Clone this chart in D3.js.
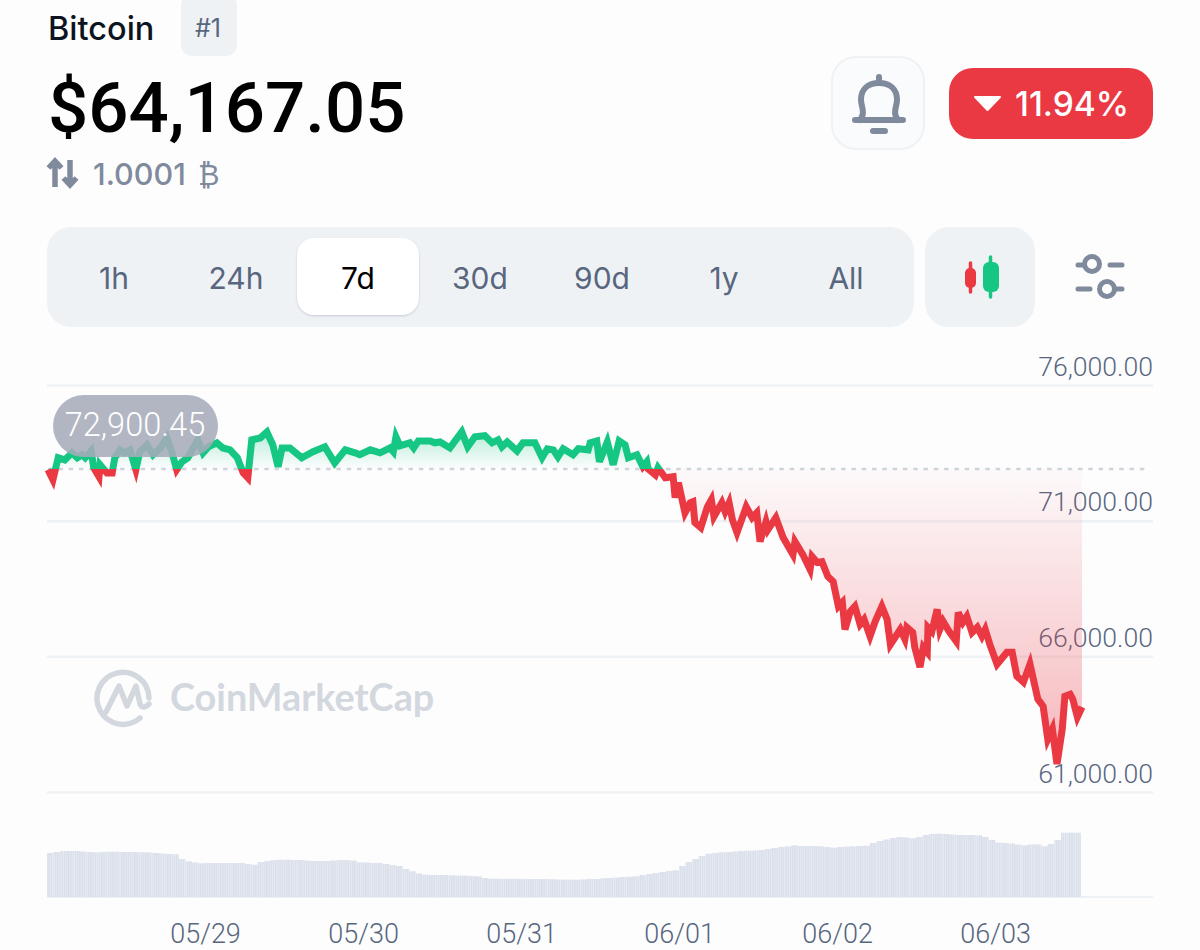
<!DOCTYPE html>
<html>
<head>
<meta charset="utf-8">
<script src="https://cdnjs.cloudflare.com/ajax/libs/d3/7.8.5/d3.min.js"></script>
<style>
  html, body { margin: 0; background: #fdfdfe; }
  svg { display: block; }
  text { font-family: Inter, Roboto, sans-serif; }
  .axis-text text { font-family: Roboto, sans-serif; font-weight: 300; fill: #58667e; }
  .axis-text path { display: none; }
</style>
</head>
<body>
<div id="svg-container"></div>
<script>
// data. hours are counted from 05/28 00:00
const priceHours = [0.15,0.9,1.7,2.7,3.8,4.6,5.3,5.8,6.7,7.1,7.9,8.05,9.1,9.9,10.3,11.1,11.8,12.6,13.5,14.1,15.2,16.1,17.2,18.2,19,19.7,20.5,21.4,22.9,23.7,24.5,25.8,26.7,27.8,28.9,29.8,30.5,31.1,32.4,33.4,34.3,35.1,35.7,36.9,38.7,40.4,42.2,43.7,45.3,46.8,47.5,49.1,50.6,52.1,52.6,53,53.6,55.1,55.7,56.4,58.2,58.9,59.7,61.2,63,63.9,65,66.5,67.6,68.5,69.1,69.9,71.4,72.3,74.1,75.2,76,76.9,77.6,78.4,79.9,80.7,82.2,82.5,83.5,83.9,85.1,86,86.9,87.8,88.3,89.6,90.5,91.1,91.3,92.4,92.8,93.9,95.1,95.4,95.9,96.9,97.7,98.1,98.4,99.3,100.3,100.9,101.3,102.5,103,103.6,104.1,104.8,106.2,107.1,107.8,108.3,109.2,109.5,110.7,111.8,113.3,113.6,114.8,115.9,116.2,117,117.7,118.6,119.4,120.2,120.8,121.2,122,122.7,123.5,124.1,125,125.8,126.8,127.6,128.1,129.6,130.3,130.6,131.5,131.8,132.6,133.1,133.7,133.8,134.4,135.2,135.6,136.1,137,138.1,138.4,139.1,139.7,140.5,141.3,142,142.5,143.2,144.3,145.8,146.6,147.3,148.3,149.3,150.5,151.3,152,152.7,153.4,154.2,154.6,155.4,155.8,156.5,157.2];
const priceValues = [72880,72510,73320,73240,73500,73320,73430,73320,73570,72950,72620,73060,72760,72760,73320,73610,73500,73610,72880,73540,73790,73430,73680,74050,73500,72880,73170,73320,73980,73500,73720,73870,73680,73610,73320,72760,72580,73980,74050,74270,73790,72990,73680,73680,73320,73540,73720,73130,73610,73500,73430,73610,73500,73680,73540,74090,73760,73870,73680,73940,73940,73870,73900,73680,74270,73720,74090,74130,73870,73980,73720,73900,73570,73870,73870,73320,73650,73610,73350,73650,73430,73650,73610,73870,73940,73170,73900,73060,73940,73790,73320,73430,72990,73170,72910,72690,72950,72580,72620,71850,72400,71290,71660,71700,70930,70740,71510,71770,71150,71660,71330,71660,71040,70560,71510,71110,71290,70230,70960,70670,71110,70380,69750,70230,69750,69200,69680,69460,69490,68940,68760,67840,67990,66990,67650,67840,67180,67360,66740,67290,67840,67360,66440,66990,66630,67070,66880,66330,65600,66330,66150,67070,66920,67730,66990,67290,66920,66550,67620,67250,67470,66880,67070,66740,66990,66440,65710,66150,66150,65270,65050,65710,64420,64160,62950,63320,62030,63320,64530,64600,64420,63760,64130];
// one volume value per hour
const volumeValues = [44,45,46,46,46,45.5,45,44.7,45,45.3,45.3,45,45,45,44.8,44.6,44,43.5,43,42.7,38,35.7,34.5,33.7,34,34,34,34,34,34,33,32.3,35,36,37,37.3,37.3,37,37,36.5,36,36,36,36.5,37,37,36.5,34.7,34.5,34,34,33,32,31,28,25.7,23.5,22.3,22,22,22,21.7,21.5,21.3,21,20.7,19,18.3,18.3,18.2,18.2,18.2,18.1,18,18,18,17.8,17.5,17.4,17.3,17.3,17.6,18,18,18.7,19,19.5,20,20.3,20.7,22,23,24,25,26,26.7,31,35,38,41,43.3,44,44.8,45,45.5,46,46.3,46.5,47,48,49,50,50.5,51.7,51,51,51,50.7,50,49.3,50,50.5,50.8,51,51.3,54,56,57.5,59,60,59.5,58.7,60,62,63,63.3,63,62.5,62,62,62,61.7,60,57,54.5,54,53.5,52.5,51.7,52.5,52.5,50.7,53,57,64.3,64.3,64.3];
const yTicks = [61000, 66000, 71000, 76000];
const dateHours = [24, 48, 72, 96, 120, 144];
const dateLabels = ["05/29", "05/30", "05/31", "06/01", "06/02", "06/03"];
const tabLabels = ["1h", "24h", "7d", "30d", "90d", "1y", "All"];
const basePrice = 72900.45;

const width = 1200, height = 950;
const svg = d3.select("#svg-container").append("svg").attr("width", width).attr("height", height);
const defs = svg.append("defs");

// scales
const xScale = d3.scaleLinear().domain([0, 157.2]).range([47, 1082]);
const yScale = d3.scaleLinear().domain([61000, 76000]).range([792, 385]);
const volScale = d3.scaleLinear().domain([0, 70]).range([897, 827]);
const tabScale = d3.scalePoint().domain(tabLabels).range([114, 846]);
const baseY = yScale(basePrice);

// gradients + clips
const green = defs.append("linearGradient").attr("id", "greenFill").attr("gradientUnits", "userSpaceOnUse")
  .attr("x1", 0).attr("x2", 0).attr("y1", 432).attr("y2", baseY);
green.append("stop").attr("offset", 0).attr("stop-color", "#16c784").attr("stop-opacity", 0.3);
green.append("stop").attr("offset", 1).attr("stop-color", "#16c784").attr("stop-opacity", 0);
const red = defs.append("linearGradient").attr("id", "redFill").attr("gradientUnits", "userSpaceOnUse")
  .attr("x1", 0).attr("x2", 0).attr("y1", baseY).attr("y2", 765);
red.append("stop").attr("offset", 0).attr("stop-color", "#ea3943").attr("stop-opacity", 0.02);
red.append("stop").attr("offset", 1).attr("stop-color", "#ea3943").attr("stop-opacity", 0.36);
defs.append("clipPath").attr("id", "aboveBase").append("rect")
  .attr("x", 0).attr("y", 0).attr("width", 1082).attr("height", baseY);
defs.append("clipPath").attr("id", "belowBase").append("rect")
  .attr("x", 0).attr("y", baseY).attr("width", 1082).attr("height", height - baseY);
defs.append("clipPath").attr("id", "belowBaseLine").append("rect")
  .attr("x", 0).attr("y", baseY).attr("width", width).attr("height", height - baseY);
defs.append("clipPath").attr("id", "aboveBaseLine").append("rect")
  .attr("x", 0).attr("y", 0).attr("width", width).attr("height", baseY);
const stripes = defs.append("pattern").attr("id", "stripes").attr("patternUnits", "userSpaceOnUse")
  .attr("width", 2.2).attr("height", 10);
stripes.append("rect").attr("width", 2.2).attr("height", 10).attr("fill", "#e6eaf1");
stripes.append("rect").attr("width", 1.3).attr("height", 10).attr("fill", "#d9dfea");
const shadow = defs.append("filter").attr("id", "tabShadow").attr("x", "-20%").attr("y", "-20%").attr("width", "140%").attr("height", "140%");
shadow.append("feDropShadow").attr("dx", 0).attr("dy", 1).attr("stdDeviation", 1.2).attr("flood-color", "#9aa5b5").attr("flood-opacity", 0.5);

////////////////////////////  header  ////////////////////////////
svg.append("text").attr("x", 48).attr("y", 40).attr("font-size", 32.5).attr("font-weight", 500).attr("fill", "#0d1421").text("Bitcoin");
svg.append("rect").attr("x", 181).attr("y", -6).attr("width", 56).attr("height", 62).attr("rx", 11).attr("fill", "#eff2f5");
svg.append("text").attr("x", 208).attr("y", 37).attr("text-anchor", "middle").attr("font-size", 25).attr("font-weight", 400).attr("fill", "#58667e").text("#1");
svg.append("text").attr("x", 48).attr("y", 132).attr("font-size", 70.8).attr("font-weight", 500).attr("fill", "#000")
  .style("font-family", "Roboto, sans-serif").text("$64,167.05");

// up/down arrows
svg.append("path").attr("fill", "none").attr("stroke", "#808a9d").attr("stroke-width", 5.5)
  .attr("d", "M55 187V162M48.5 168L55 161L61.5 168M70 160V185M63.5 178L70 185L76.5 178");
svg.append("text").attr("x", 93).attr("y", 185).attr("font-size", 30.5).attr("font-weight", 500).attr("fill", "#808a9d").text("1.0001");
svg.append("text").attr("x", 198).attr("y", 185).attr("font-size", 29).attr("fill", "#808a9d")
  .style("font-family", "'DejaVu Sans', sans-serif").text("₿");

// bell button
svg.append("rect").attr("x", 832).attr("y", 57).attr("width", 92).attr("height", 92).attr("rx", 24)
  .attr("fill", "#fafbfd").attr("stroke", "#eff2f5").attr("stroke-width", 2);
svg.append("path").attr("fill", "none").attr("stroke", "#808a9d").attr("stroke-width", 6).attr("stroke-linecap", "round").attr("stroke-linejoin", "round")
  .attr("d", "M855 120H903M860 120C866 113 861 106 861 100C861 89 868 83 879 83C890 83 897 89 897 100C897 106 892 113 898 120M879 80V77M873 131H885");

// change pill
svg.append("rect").attr("x", 949).attr("y", 68).attr("width", 204).attr("height", 71).attr("rx", 24).attr("fill", "#ea3943");
svg.append("path").attr("fill", "#fff").attr("stroke", "#fff").attr("stroke-width", 2).attr("stroke-linejoin", "round").attr("d", "M975 97H1000L987.5 110Z");
svg.append("text").attr("x", 1015).attr("y", 116).attr("font-size", 33.5).attr("font-weight", 500).attr("fill", "#fff").text("11.94%");

// range tabs
svg.append("rect").attr("x", 47).attr("y", 227).attr("width", 867).attr("height", 100).attr("rx", 24).attr("fill", "#eff2f5");
svg.append("rect").attr("x", 297).attr("y", 238).attr("width", 122).attr("height", 77).attr("rx", 17).attr("fill", "#fff").attr("filter", "url(#tabShadow)");
svg.selectAll(".tab").data(tabLabels).join("text").attr("class", "tab")
  .attr("x", (d) => tabScale(d)).attr("y", 289).attr("text-anchor", "middle").attr("font-size", 30)
  .attr("fill", (d) => (d === "7d" ? "#000" : "#58667e")).text((d) => d);

// candle button
svg.append("rect").attr("x", 925).attr("y", 227).attr("width", 110).attr("height", 100).attr("rx", 24).attr("fill", "#eff2f5");
svg.append("path").attr("stroke", "#ea3943").attr("stroke-width", 3.5).attr("stroke-linecap", "round").attr("d", "M970.5 263V292");
svg.append("rect").attr("x", 965).attr("y", 268).attr("width", 11).attr("height", 20).attr("rx", 5).attr("fill", "#ea3943");
svg.append("path").attr("stroke", "#16c784").attr("stroke-width", 3.5).attr("stroke-linecap", "round").attr("d", "M990.5 257V297");
svg.append("rect").attr("x", 983).attr("y", 262).attr("width", 16).attr("height", 30).attr("rx", 6).attr("fill", "#16c784");

// sliders icon
svg.append("path").attr("fill", "none").attr("stroke", "#808a9d").attr("stroke-width", 5).attr("stroke-linecap", "round")
  .attr("d", "M1078 265H1084M1110 265H1122M1078 289H1090M1115 289H1122");
svg.append("circle").attr("cx", 1092).attr("cy", 264).attr("r", 7.5).attr("fill", "none").attr("stroke", "#808a9d").attr("stroke-width", 5);
svg.append("circle").attr("cx", 1107).attr("cy", 289).attr("r", 7.5).attr("fill", "none").attr("stroke", "#808a9d").attr("stroke-width", 5);

////////////////////////////  chart  ////////////////////////////
// y axis with labels above the grid lines
const yAxis = d3.axisLeft(yScale).tickValues(yTicks).tickSize(-1106).tickPadding(0).tickFormat(d3.format(",.2f"));
const yG = svg.append("g").attr("class", "axis-text").attr("transform", "translate(1153,0)").call(yAxis);
yG.selectAll("line").attr("stroke", "#eff2f5").attr("stroke-width", 2.5).attr("transform", "scale(-1,1)").attr("x2", 1106);
yG.selectAll("text").attr("x", 0).attr("dy", -10).attr("text-anchor", "end").style("font-size", "26.6px");

// watermark
const mark = svg.append("g").attr("fill", "none").attr("stroke", "#d3d8df").attr("stroke-width", 5.5).attr("stroke-linecap", "round").attr("stroke-linejoin", "round");
mark.append("path").attr("d", "M140 718A26 26 0 1 1 149 698");
mark.append("path").attr("d", "M106 712L119 686L127 706L136 686L140 704C142 708 145 708 149 704");
svg.append("text").attr("x", 170).attr("y", 711).attr("font-size", 37.8).attr("font-weight", 700).attr("fill", "#d3d8df")
  .style("font-family", "Lato, sans-serif").text("CoinMarketCap");

// price data as rows for the generators
const priceRows = priceHours.map((h, i) => ({ hour: h, price: priceValues[i] }));
const area = d3.area().x((d) => xScale(d.hour)).y0(baseY).y1((d) => yScale(d.price));
const line = d3.line().x((d) => xScale(d.hour)).y((d) => yScale(d.price));

svg.append("path").datum(priceRows).attr("d", area).attr("fill", "url(#greenFill)").attr("clip-path", "url(#aboveBase)");
svg.append("path").datum(priceRows).attr("d", area).attr("fill", "url(#redFill)").attr("clip-path", "url(#belowBase)");

// dashed open price line
svg.append("line").attr("x1", 48).attr("x2", 1146).attr("y1", baseY).attr("y2", baseY)
  .attr("stroke", "#cfd4da").attr("stroke-width", 2.5).attr("stroke-dasharray", "4.5 5.8");

svg.append("path").datum(priceRows).attr("d", line).attr("fill", "none").attr("stroke", "#16c784").attr("stroke-width", 7).attr("clip-path", "url(#aboveBaseLine)");
svg.append("path").datum(priceRows).attr("d", line).attr("fill", "none").attr("stroke", "#ea3943").attr("stroke-width", 7).attr("clip-path", "url(#belowBaseLine)");

// open price bubble
svg.append("rect").attr("x", 53).attr("y", 395).attr("width", 165).attr("height", 62).attr("rx", 31).attr("fill", "#a6acb9").attr("fill-opacity", 0.88);
svg.append("text").attr("x", 135).attr("y", 436).attr("text-anchor", "middle").attr("font-size", 32.6).attr("font-weight", 300).attr("fill", "#fff")
  .style("font-family", "Roboto, sans-serif").text(d3.format(",.2f")(basePrice));

// volume bars
svg.append("line").attr("x1", 47).attr("x2", 1153).attr("y1", 897).attr("y2", 897).attr("stroke", "#eff2f5").attr("stroke-width", 2);
svg.selectAll(".vol").data(volumeValues).join("rect").attr("class", "vol")
  .attr("x", (d, i) => xScale(i))
  .attr("width", xScale(1) - xScale(0) + 0.2)
  .attr("y", (d) => volScale(d))
  .attr("height", (d) => volScale(0) - volScale(d))
  .attr("fill", "url(#stripes)");

// date axis
const xAxis = d3.axisBottom(xScale).tickValues(dateHours).tickSize(0).tickPadding(0)
  .tickFormat((d, i) => dateLabels[i]);
const xG = svg.append("g").attr("class", "axis-text").attr("transform", "translate(0,924)").call(xAxis);
xG.selectAll("text").attr("y", 0).attr("dy", 19).style("font-size", "27px");
xG.selectAll("line").remove();
</script>
</body>
</html>
